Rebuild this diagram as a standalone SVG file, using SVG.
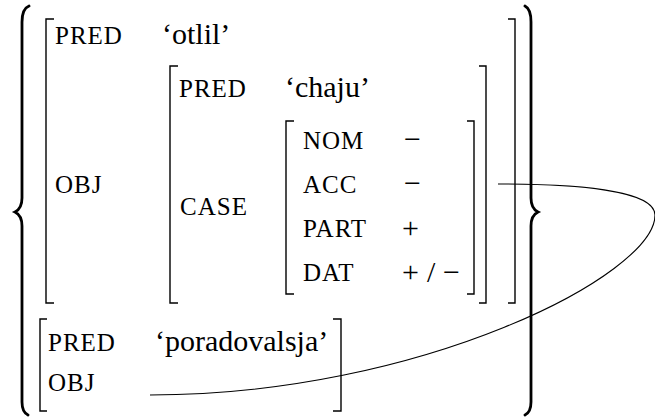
<svg xmlns="http://www.w3.org/2000/svg" width="655" height="417" viewBox="0 0 655 417">
<style>
.bk{fill:none;stroke:#000;stroke-width:1.4}
.br{fill:none;stroke:#000;stroke-width:2.8;stroke-linecap:round}
.cn{fill:none;stroke:#000;stroke-width:1.1}
</style>
<rect width="655" height="417" fill="#fff"/>
<g id="set-braces">
<path class="br" d="M29,6 C24,8 22,14 22,22 L22,198 C22,206 19,210 15,212 C19,214 22,218 22,226 L22,402 C22,410 24,413 28,415"/>
<path class="br" d="M525,6 C529,8 531,14 531,22 L531,198 C531,206 534,210 538,212 C534,214 531,218 531,226 L531,402 C531,410 529,413 525,415"/>
</g>
<g id="avm-main">
<path class="bk" d="M54,19 H46 V303 H54"/>
<path class="bk" d="M508,19 H515 V303 H508"/>
<text font-family="Liberation Serif" font-size="25" letter-spacing="1" x="55" y="44">PRED</text>
<text font-family="Liberation Serif" font-size="30" x="162" y="44">‘otlil’</text>
<text font-family="Liberation Serif" font-size="25" letter-spacing="1" x="55" y="193">OBJ</text>
</g>
<g id="avm-obj">
<path class="bk" d="M178,66 H170 V303 H178"/>
<path class="bk" d="M479,66 H486 V303 H479"/>
<text font-family="Liberation Serif" font-size="25" letter-spacing="1" x="179" y="97">PRED</text>
<text font-family="Liberation Serif" font-size="30" x="285" y="97">‘chaju’</text>
<text font-family="Liberation Serif" font-size="25" letter-spacing="1" x="180" y="215">CASE</text>
</g>
<g id="avm-case">
<path class="bk" d="M294,121 H286 V294 H294"/>
<path class="bk" d="M467,121 H474 V294 H467"/>
<text font-family="Liberation Serif" font-size="25" letter-spacing="1" x="303" y="149">NOM</text>
<text font-family="Liberation Serif" font-size="30" x="404" y="149">−</text>
<text font-family="Liberation Serif" font-size="25" letter-spacing="1" x="303" y="193">ACC</text>
<text font-family="Liberation Serif" font-size="30" x="404" y="193">−</text>
<text font-family="Liberation Serif" font-size="25" letter-spacing="1" x="303" y="237">PART</text>
<text font-family="Liberation Serif" font-size="30" x="402" y="238">+</text>
<text font-family="Liberation Serif" font-size="25" letter-spacing="1" x="303" y="281">DAT</text>
<text font-family="Liberation Serif" font-size="30" y="282"><tspan x="402">+</tspan><tspan x="427">/</tspan><tspan x="443">−</tspan></text>
</g>
<g id="avm-second">
<path class="bk" d="M47,319 H40 V411 H47"/>
<path class="bk" d="M333,319 H341 V411 H333"/>
<text font-family="Liberation Serif" font-size="25" letter-spacing="1" x="48" y="351">PRED</text>
<text font-family="Liberation Serif" font-size="30" x="155" y="351">‘poradovalsja’</text>
<text font-family="Liberation Serif" font-size="25" letter-spacing="1" x="48" y="391">OBJ</text>
</g>
<g id="connectors">
<path class="cn" d="M498,184 C575,184 655,190 655,215 C655,275 420,395 150,395"/>
</g>
</svg>
